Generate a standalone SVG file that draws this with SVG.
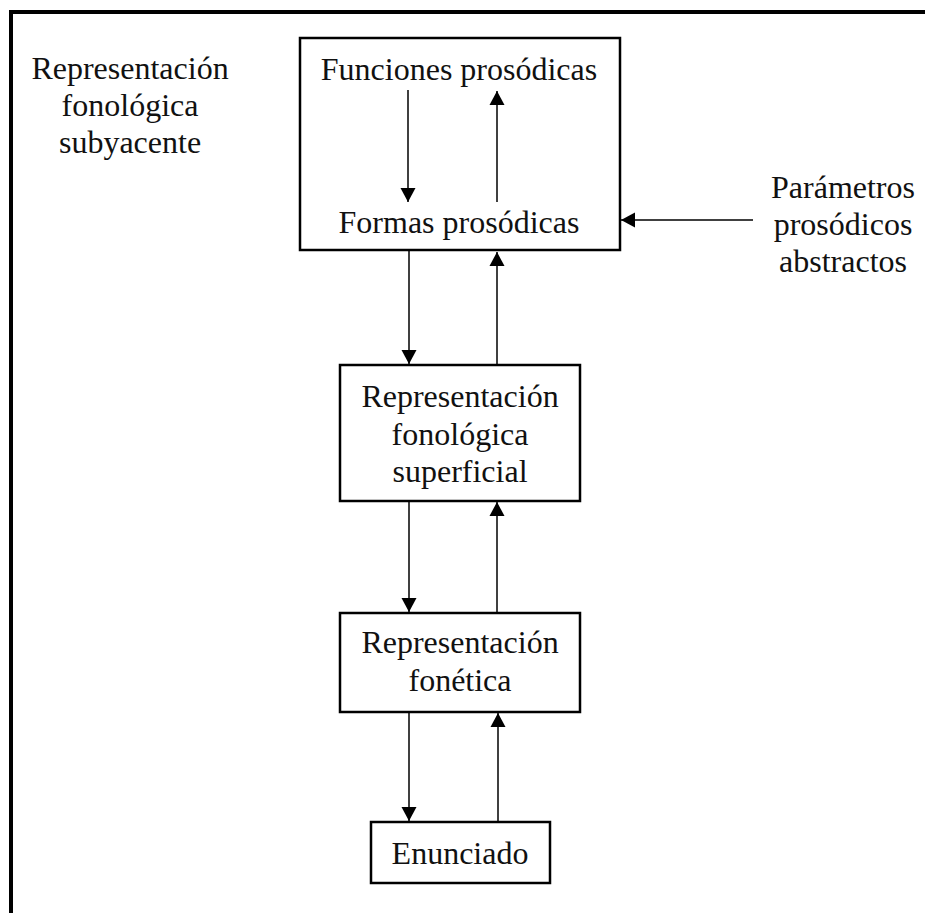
<svg xmlns="http://www.w3.org/2000/svg" width="925" height="913" viewBox="0 0 925 913">
<style>
text{font-family:"Liberation Serif","Times New Roman",serif;font-size:32px;fill:#111;text-anchor:middle}
.box{fill:#fff;stroke:#000;stroke-width:2.5}
.c{stroke:#000;stroke-width:1.5;fill:none;marker-end:url(#ah)}
</style>
<defs>
<marker id="ah" markerUnits="userSpaceOnUse" markerWidth="15" markerHeight="16" refX="14" refY="8" orient="auto">
<path d="M0,0.5 L14,8 L0,15.5 z" fill="#000"/>
</marker>
</defs>
<rect width="925" height="913" fill="#fff"/>
<path d="M11,913 V12 H925" fill="none" stroke="#000" stroke-width="4"/>
<g id="label-left">
<text x="130" y="79">Representación</text>
<text x="130" y="116">fonológica</text>
<text x="130" y="153">subyacente</text>
</g>
<g id="label-right">
<text x="843" y="198">Parámetros</text>
<text x="843" y="235">prosódicos</text>
<text x="843" y="272">abstractos</text>
</g>
<g id="node-top">
<rect class="box" x="300" y="38" width="320" height="212"/>
<text x="459" y="80">Funciones prosódicas</text>
<text x="459" y="233">Formas prosódicas</text>
</g>
<g id="node-superficial">
<rect class="box" x="340" y="365" width="240" height="136"/>
<text x="460" y="407">Representación</text>
<text x="460" y="445">fonológica</text>
<text x="460" y="482">superficial</text>
</g>
<g id="node-fonetica">
<rect class="box" x="340" y="613" width="240" height="99"/>
<text x="460" y="653">Representación</text>
<text x="460" y="691">fonética</text>
</g>
<g id="node-enunciado">
<rect class="box" x="371" y="822" width="179" height="61"/>
<text x="460" y="864">Enunciado</text>
</g>
<g id="connectors">
<line class="c" x1="408" y1="90" x2="408" y2="202"/>
<line class="c" x1="497" y1="202" x2="497" y2="91"/>
<line class="c" x1="753" y1="220" x2="621" y2="220"/>
<line class="c" x1="409" y1="251" x2="409" y2="364"/>
<line class="c" x1="497" y1="364" x2="497" y2="252"/>
<line class="c" x1="409" y1="502" x2="409" y2="612"/>
<line class="c" x1="497" y1="612" x2="497" y2="502"/>
<line class="c" x1="409" y1="713" x2="409" y2="821"/>
<line class="c" x1="498" y1="821" x2="498" y2="713"/>
</g>
</svg>
